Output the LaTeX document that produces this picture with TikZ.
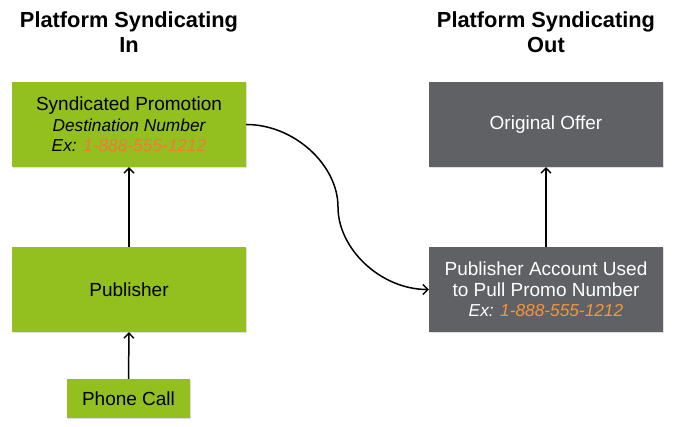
\documentclass[tikz,border=0pt]{standalone}
\usepackage{fontspec}
\setmainfont{Liberation Sans}
\usetikzlibrary{arrows.meta,shadows}
\definecolor{boxgreen}{HTML}{93C01F}
\definecolor{boxgray}{HTML}{5F6165}
\definecolor{numorange}{HTML}{F2793A}
\definecolor{numorangeb}{HTML}{F5953A}
\newcommand{\smit}[1]{{\fontsize{17.3}{20.5}\selectfont\itshape #1}}
\begin{document}
\begin{tikzpicture}[x=1pt,y=1pt,
  base/.style={rectangle, inner sep=0pt, align=center, minimum width=234pt, minimum height=85pt,
    font=\fontsize{19}{20.5}\selectfont,
    drop shadow={opacity=0.25, shadow xshift=1pt, shadow yshift=-1.5pt}},
  greenbox/.style={base, fill=boxgreen, text=black},
  graybox/.style={base, fill=boxgray, text=white},
  title/.style={align=center, font=\fontsize{21.8}{25}\selectfont\bfseries},
  arr/.style={-{Straight Barb[length=5pt,width=10pt,line width=1.4pt]}, line width=1.5pt, black}]
\useasboundingbox (0,0) rectangle (673,-427);
\node[title] (t1) at (129,-32) {Platform Syndicating\\In};
\node[title] (t2) at (546,-32) {Platform Syndicating\\Out};
\node[greenbox] (sp) at (129,-124.5) {Syndicated Promotion\\\smit{Destination Number}\\\smit{Ex: \textcolor{numorange}{1-888-555-1212}}};
\node[greenbox] (pub) at (129,-289.5) {Publisher};
\node[greenbox, minimum width=123pt, minimum height=39pt] (pc) at (128.5,-398.5) {Phone Call};
\node[graybox] (oo) at (546,-124.5) {Original Offer};
\node[graybox] (pa) at (546,-289.5) {Publisher Account Used\\to Pull Promo Number\\\smit{Ex: \textcolor{numorangeb}{1-888-555-1212}}};
\coordinate (mid) at (338,-207);
\draw[arr] (pc.north) -- (pub.south);
\draw[arr] (pub.north) -- (sp.south);
\draw[arr] (pa.north) -- (oo.south);
\draw[arr] (sp.east) .. controls +(48,0) and +(0,42) .. (mid) .. controls +(0,-42) and +(-48,0) .. (pa.west);
\end{tikzpicture}
\end{document}
